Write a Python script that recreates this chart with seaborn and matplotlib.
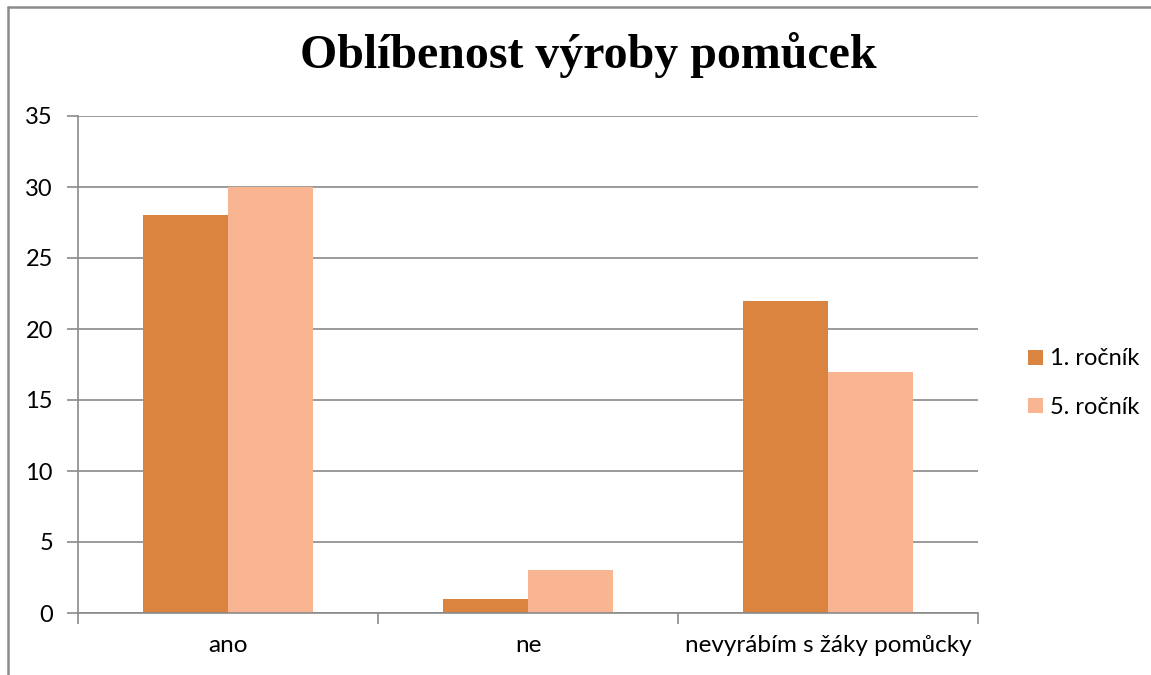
import matplotlib
matplotlib.use("Agg")
import matplotlib.pyplot as plt
import seaborn as sns
import pandas as pd
from matplotlib.lines import Line2D

categories = ["ano", "ne", "nevyrábím s žáky pomůcky"]
series_names = ["1. ročník", "5. ročník"]
values_1 = [28, 1, 22]
values_5 = [30, 3, 17]
yticks = [0, 5, 10, 15, 20, 25, 30, 35]
title = "Oblíbenost výroby pomůcek"

colors = ["#DA843F", "#F9B591"]

df = pd.DataFrame({
    "kategorie": categories * 2,
    "ročník": [series_names[0]] * 3 + [series_names[1]] * 3,
    "hodnota": values_1 + values_5,
})

sns.set_theme(style="white")
plt.rcParams["font.family"] = ["Lato", "DejaVu Sans"]
plt.rcParams["text.color"] = "#000000"
plt.rcParams["xtick.bottom"] = True
plt.rcParams["ytick.left"] = True

W, H = 1151, 675
fig = plt.figure(figsize=(W / 100, H / 100), dpi=100)
ax = fig.add_axes([78 / W, (H - 613) / H, 900 / W, (613 - 116) / H])

sns.barplot(data=df, x="kategorie", y="hodnota", hue="ročník",
            palette=colors, width=0.567, gap=0, saturation=1,
            ax=ax, legend=False, linewidth=0)

ax.set_xlim(-0.5, 2.5)
ax.set_ylim(0, 35)
ax.set_yticks(yticks)
ax.set_yticklabels([str(v) for v in yticks], fontsize=17, color="#000000")
ax.yaxis.grid(True, color="#8a8a8a", linewidth=1.2)
ax.set_axisbelow(True)
ax.set_xlabel("")
ax.set_ylabel("")

ax.set_xticks(range(len(categories)))
ax.set_xticklabels(categories, fontsize=17.5, color="#000000")
ax.tick_params(axis="x", which="major", length=0, pad=16)
ax.set_xticks([-0.5, 0.5, 1.5, 2.5], minor=True)
ax.tick_params(axis="x", which="minor", bottom=True, length=8, width=1.2,
               color="#8a8a8a", direction="out")
ax.tick_params(axis="y", which="major", left=True, length=8, width=1.2,
               color="#8a8a8a", direction="out", pad=10)

for s in ["top", "right"]:
    ax.spines[s].set_visible(False)
for s in ["left", "bottom"]:
    ax.spines[s].set_color("#8a8a8a")
    ax.spines[s].set_linewidth(1.2)

fig.text(588 / W, 1 - 55 / H, title, ha="center", va="center", color="#000000",
         fontsize=34.5, fontweight="bold", family=["Liberation Serif", "DejaVu Serif"])

handles = [plt.Rectangle((0, 0), 1, 1, facecolor=c, edgecolor="none") for c in colors]
leg = fig.legend(handles, series_names, loc="center left",
                 bbox_to_anchor=(1019 / W, 1 - 383 / H), frameon=False,
                 fontsize=17, handlelength=0.6, handleheight=0.6,
                 handletextpad=0.3, labelspacing=1.15, borderaxespad=0,
                 labelcolor="#000000")

# chart border (partially visible)
fig.add_artist(Line2D([8 / W, 1.0], [1 - 7 / H, 1 - 7 / H], transform=fig.transFigure,
                      color="#8c8c8c", linewidth=1.8))
fig.add_artist(Line2D([8 / W, 8 / W], [0, 1 - 7 / H], transform=fig.transFigure,
                      color="#8c8c8c", linewidth=1.8))

fig.savefig("out.png", dpi=100)
